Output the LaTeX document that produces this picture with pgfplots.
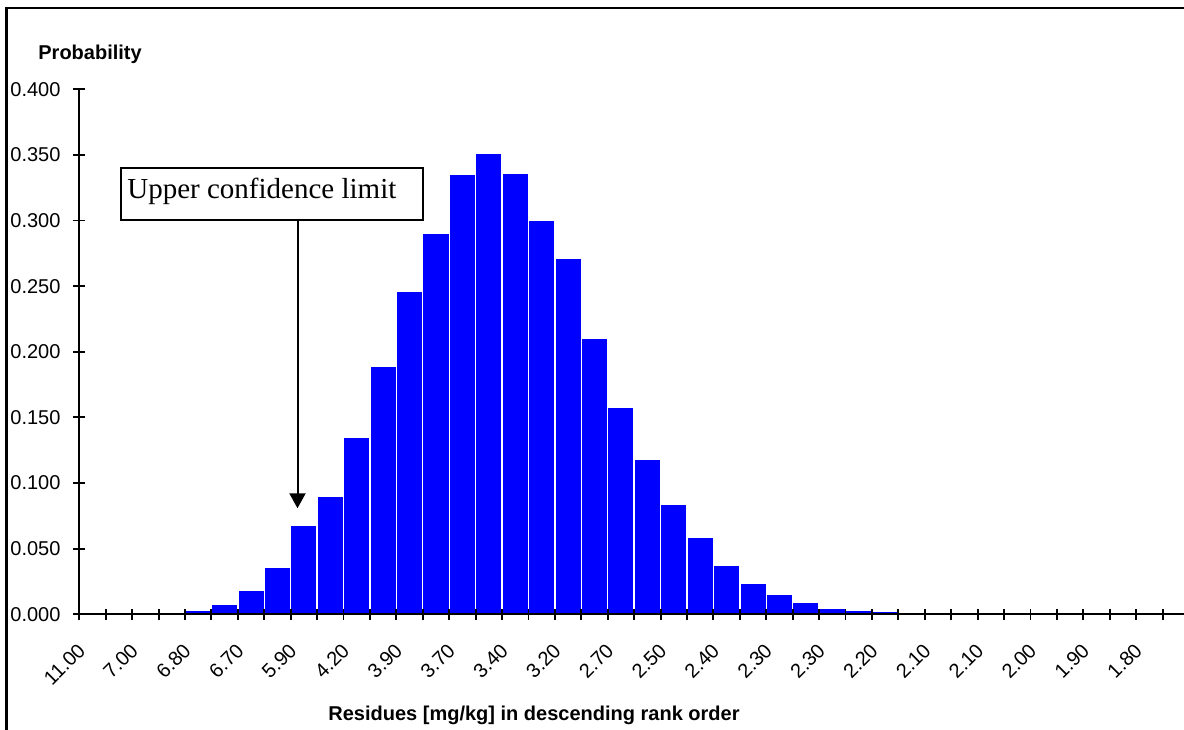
\documentclass[border=0pt]{standalone}
\usepackage{pgfplots}
\pgfplotsset{compat=1.18}
\usetikzlibrary{arrows.meta}
\usepackage{fontspec}
\setmainfont{Liberation Sans}
\newfontfamily\timesfont{Liberation Serif}
\definecolor{barblue}{RGB}{0,0,255}
\begin{document}
\begin{tikzpicture}
\path[use as bounding box, clip] (0pt,0pt) rectangle (592pt,364.5pt);
% outer frame (cropped at right and bottom)
\draw[line width=1.25pt] (3.25pt,-10pt) -- (3.25pt,360.5pt) -- (605pt,360.5pt);
\begin{axis}[
  at={(39.65pt,57.35pt)}, anchor=origin,
  scale only axis, width=552.2pt, height=262.5pt,
  xmin=0, xmax=41.8, ymin=0, ymax=0.4,
  axis on top,
  axis x line=bottom, axis y line=left,
  axis line style={-, line width=0.95pt, black},
  tick style={line width=0.95pt, black},
  tick align=center, major tick length=5.8pt,
  xtick={0,...,41}, xticklabels={},
  extra x ticks={0.5,2.5,...,40.5},
  extra x tick labels={11.00,7.00,6.80,6.70,5.90,4.20,3.90,3.70,3.40,3.20,2.70,2.50,2.40,2.30,2.30,2.20,2.10,2.10,2.00,1.90,1.80},
  extra x tick style={major tick length=0pt,
    tick label style={font=\fontsize{10}{12}\selectfont, xshift=-3pt, yshift=-14pt, rotate=45, anchor=east}},
  ytick={0,0.05,...,0.4001},
  yticklabel style={font=\fontsize{10}{12}\selectfont, xshift=-3pt},
  /pgf/number format/fixed, /pgf/number format/fixed zerofill,
  /pgf/number format/precision=3,
  /pgf/number format/assume math mode=true,
  clip=false,
]
\addplot[ybar, bar width=1, bar shift=0pt, fill=barblue, draw=white, line width=0.7pt] coordinates {
(4.5,0.003) (5.5,0.008) (6.5,0.018) (7.5,0.036) (8.5,0.068)
(9.5,0.090) (10.5,0.135) (11.5,0.189) (12.5,0.246) (13.5,0.290)
(14.5,0.335) (15.5,0.351) (16.5,0.336) (17.5,0.300) (18.5,0.271)
(19.5,0.210) (20.5,0.158) (21.5,0.118) (22.5,0.084) (23.5,0.059)
(24.5,0.037) (25.5,0.024) (26.5,0.015) (27.5,0.009) (28.5,0.0046)
(29.5,0.003) (30.5,0.002)
};
\end{axis}
% axis titles
\node[anchor=base west, inner sep=0pt, font=\fontsize{10}{12}\selectfont\bfseries] at (19pt,334.5pt) {Probability};
\node[anchor=base, inner sep=0pt, font=\fontsize{10}{12}\selectfont\bfseries] at (267pt,4.15pt) {Residues [mg/kg] in descending rank order};
% annotation
\draw[line width=0.8pt, fill=white] (60.5pt,254.5pt) rectangle (211.5pt,280.5pt);
\node[anchor=base west, inner sep=0pt, font=\timesfont\fontsize{14.5}{17}\selectfont] at (63.5pt,265.35pt) {Upper confidence limit};
\draw[line width=1pt, -{Triangle[width=8pt,length=7.5pt]}] (148.75pt,254.5pt) -- (148.75pt,110.35pt);
\end{tikzpicture}
\end{document}
